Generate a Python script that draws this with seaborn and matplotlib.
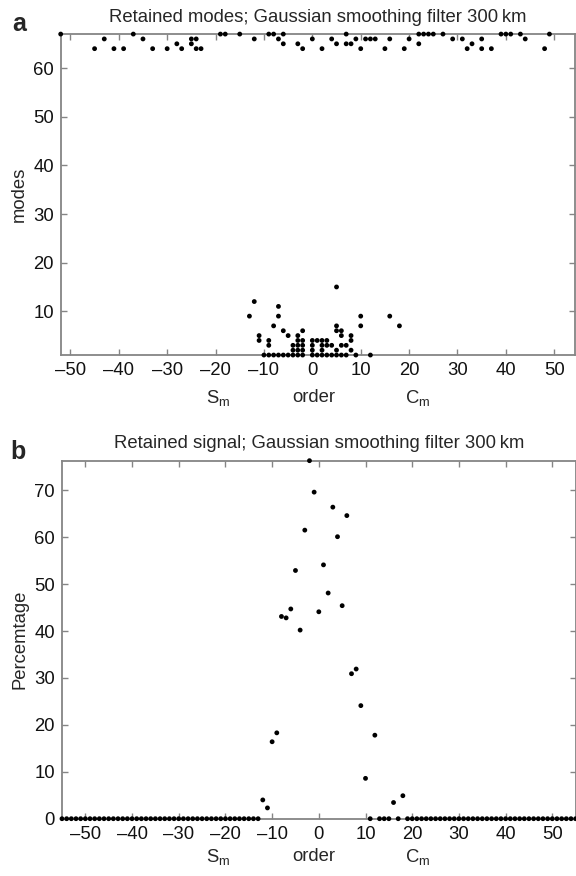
import numpy as np
import pandas as pd
import matplotlib
matplotlib.use('Agg')
import matplotlib.pyplot as plt
import seaborn as sns

# Panel a: retained (order, mode) pairs
orders_67 = [-52, -37, -19, -18, -15, -9, -8, -6, 7, 22, 23, 24, 25, 27, 39, 40, 41, 43, 49]
orders_66 = [-43, -35, -25, -24, -12, -7, 0, 4, 9, 11, 12, 13, 16, 20, 29, 31, 35, 44]
orders_65 = [-28, -25, -6, -3, 5, 7, 8, 22, 33]
orders_64 = [-45, -41, -39, -33, -30, -27, -24, -23, -2, 2, 10, 15, 19, 32, 35, 37, 48]

low_orders = [-13, -12, -11, -11, -10, -9, -9, -9, -8, -8, -7, -7, -7,
              -6, -6, -5, -5, -4, -4, -4, -3, -3, -3, -3, -3,
              -2, -2, -2, -2, -2, 0, 0, 0, 0, 1, 1, 2, 2, 2, 2,
              3, 3, 3, 4, 4, 5, 5, 5, 5, 5, 6, 6, 6, 6, 7, 7,
              8, 8, 8, 9, 10, 10, 12, 16, 18]
low_modes = [9, 12, 4, 5, 1, 1, 3, 4, 1, 7, 1, 9, 11,
             1, 6, 1, 5, 1, 2, 3, 1, 2, 3, 4, 5,
             1, 2, 3, 4, 6, 1, 2, 3, 4, 1, 4, 1, 2, 3, 4,
             1, 3, 4, 1, 3, 1, 2, 6, 7, 15, 1, 3, 5, 6, 1, 3,
             2, 4, 5, 1, 7, 9, 1, 9, 7]

# Panel b: retained signal per order
signal_orders = list(range(-55, 56))
signal_left_zeros = [0.0] * 43          # orders -55 .. -13
signal_core = [4.0, 2.3, 16.4, 18.3, 43.1, 42.8, 44.7, 52.9, 40.2, 61.5, 76.3,
               69.6, 44.1, 54.1, 48.1, 66.4, 60.1, 45.4, 64.6, 30.9, 31.9, 24.1,
               8.6, 0.0, 17.8, 0.0, 0.0, 0.0, 3.45, 0.0, 4.9]   # orders -12 .. 18
signal_right_zeros = [0.0] * 37         # orders 19 .. 55
signal_pct = signal_left_zeros + signal_core + signal_right_zeros

modes_df = pd.DataFrame({
    'order': orders_67 + orders_66 + orders_65 + orders_64 + low_orders,
    'mode': [67] * len(orders_67) + [66] * len(orders_66) + [65] * len(orders_65)
            + [64] * len(orders_64) + low_modes,
})
signal_df = pd.DataFrame({'order': signal_orders, 'pct': signal_pct})

sns.set_style('ticks')
plt.rcParams['font.family'] = ['Liberation Sans', 'DejaVu Sans']
plt.rcParams['font.size'] = 13.3
plt.rcParams['mathtext.default'] = 'regular'

fs = 13.3
grey = '#858585'
fig = plt.figure(figsize=(5.76, 8.76), dpi=100)
ax_a = fig.add_axes([0.1054, 0.5947, 0.893, 0.3664])
ax_b = fig.add_axes([0.1076, 0.0654, 0.8918, 0.4087])


def style_axes(ax):
    for sp in ax.spines.values():
        sp.set_color(grey)
        sp.set_linewidth(1.3)
        sp.set_visible(True)
        sp.set_zorder(1)
    ax.tick_params(direction='in', length=4, width=1, color=grey,
                   top=True, right=True, labelsize=fs, labelcolor='#111111', pad=5)
    ax.set_xticks(np.arange(-50, 51, 10))
    ax.set_xticklabels([str(t).replace('-', '\u2013') for t in range(-50, 51, 10)])


def order_labels(yfig):
    fig.text(0.378, yfig, 'S$_m$', ha='center', va='center', fontsize=fs)
    fig.text(0.545, yfig, 'order', ha='center', va='center', fontsize=fs)
    fig.text(0.725, yfig, 'C$_m$', ha='center', va='center', fontsize=fs)


# panel a
sns.scatterplot(data=modes_df, x='order', y='mode', ax=ax_a, color='black',
                s=12, edgecolor='none', clip_on=False, legend=False, zorder=5)
ax_a.set_xlim(-52, 54.3)
ax_a.set_ylim(1, 67)
style_axes(ax_a)
ax_a.set_yticks(np.arange(10, 61, 10))
ax_a.set_xlabel('')
ax_a.set_ylabel('modes', labelpad=4)
ax_a.set_title('Retained modes; Gaussian smoothing filter 300\u2009km', fontsize=fs, pad=9)
order_labels(0.5457)
fig.text(0.022, 0.965, 'a', fontsize=18, fontweight='bold')

# panel b
sns.scatterplot(data=signal_df, x='order', y='pct', ax=ax_b, color='black',
                s=12, edgecolor='none', clip_on=False, legend=False, zorder=5)
ax_b.set_xlim(-55, 55)
ax_b.set_ylim(0, 76.3)
style_axes(ax_b)
ax_b.set_yticks(np.arange(0, 71, 10))
ax_b.set_xlabel('')
ax_b.set_ylabel('Percemtage', labelpad=4)
ax_b.set_title('Retained signal; Gaussian smoothing filter 300\u2009km', fontsize=fs, pad=9)
order_labels(0.0217)
fig.text(0.018, 0.476, 'b', fontsize=18, fontweight='bold')

fig.savefig('out.png', dpi=100)
